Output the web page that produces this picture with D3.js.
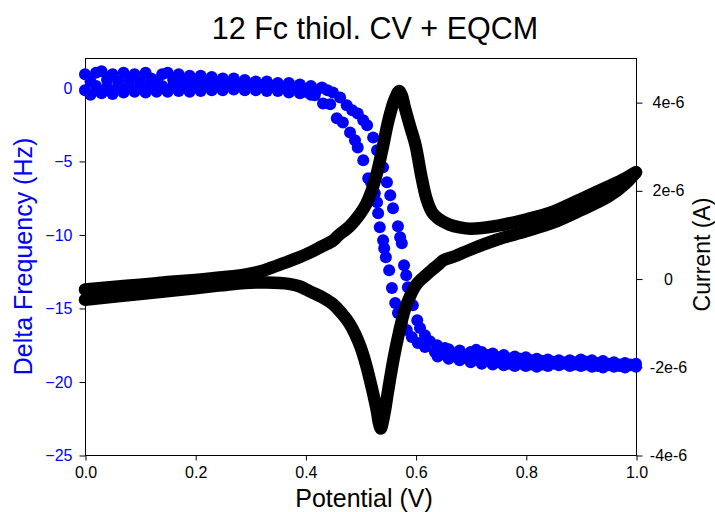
<!DOCTYPE html>
<html>
<head>
<meta charset="utf-8">
<script src="https://cdnjs.cloudflare.com/ajax/libs/d3/7.8.5/d3.min.js"></script>
<style>
  html, body { margin: 0; padding: 0; background: #fff; }
  svg { display: block; font-family: "Liberation Sans", Arial, Helvetica, sans-serif; }
</style>
</head>
<body>
<svg id="chart" width="715" height="512"></svg>
<script>
// ---------- data ----------
const chartTitle = "12 Fc thiol. CV + EQCM";
const xTitle = "Potential (V)";
const yLeftTitle = "Delta Frequency (Hz)";
const yRightTitle = "Current (A)";

const potentialTicks = [0.0, 0.2, 0.4, 0.6, 0.8, 1.0];
const potentialTickLabels = ["0.0", "0.2", "0.4", "0.6", "0.8", "1.0"];
const freqTicks = [0, -5, -10, -15, -20, -25];
const currentTicks = [4, 2, 0, -2, -4];            // in 1e-6 A
const currentTickLabels = ["4e-6", "2e-6", "0", "-2e-6", "-4e-6"];

// Delta frequency (Hz) vs potential (V), forward (anodic) scan
const freqForward = [
  [0.00,0.9],[0.01,0.4],[0.02,1.0],[0.03,1.1],[0.04,0.5],[0.05,0.9],[0.06,0.4],[0.07,1.0],
  [0.08,0.5],[0.09,0.9],[0.10,0.4],[0.11,1.0],[0.12,0.6],[0.13,0.4],[0.14,0.9],[0.15,1.0],
  [0.16,0.5],[0.17,0.9],[0.18,0.4],[0.19,0.8],[0.20,0.3],[0.21,0.8],[0.22,0.4],[0.23,0.7],
  [0.24,0.3],[0.25,0.6],[0.26,0.3],[0.27,0.6],[0.28,0.2],[0.29,0.5],[0.30,0.2],[0.31,0.4],
  [0.32,0.1],[0.33,0.4],[0.34,0.1],[0.35,0.3],[0.36,0.0],[0.37,0.3],[0.38,0.0],[0.39,0.2],
  [0.40,-0.1],[0.41,0.1],[0.42,-0.2],[0.43,0.0],[0.44,-0.2],
  [0.450,-0.34],[0.463,-0.68],[0.475,-1.22],[0.485,-1.56],[0.495,-1.77],[0.505,-2.24],
  [0.512,-2.58],[0.523,-3.40],[0.530,-4.28],[0.541,-5.43],[0.548,-6.45],[0.554,-7.34],
  [0.559,-8.22],[0.568,-9.44],[0.572,-10.19],[0.575,-10.60],[0.579,-12.09],[0.583,-12.77],
  [0.586,-13.59],[0.595,-14.81],[0.603,-15.83],[0.608,-16.37],[0.617,-16.85],[0.626,-17.26],
  [0.639,-17.53],[0.653,-17.73],
  [0.66,-17.8],[0.67,-18.1],[0.68,-17.9],[0.69,-18.2],[0.70,-18.0],[0.71,-17.85],[0.72,-18.0],
  [0.73,-18.2],[0.74,-18.1],[0.75,-18.35],[0.76,-18.2],[0.77,-18.45],[0.78,-18.3],[0.79,-18.45],
  [0.80,-18.35],[0.81,-18.55],[0.82,-18.45],[0.83,-18.6],[0.84,-18.5],[0.85,-18.65],[0.86,-18.55],
  [0.87,-18.7],[0.88,-18.55],[0.89,-18.7],[0.90,-18.5],[0.91,-18.65],[0.92,-18.55],[0.93,-18.75],
  [0.94,-18.6],[0.95,-18.8],[0.96,-18.7],[0.97,-18.85],[0.98,-18.75],[0.99,-18.85],[1.00,-18.8]
];

// Delta frequency (Hz) vs potential (V), reverse (cathodic) scan
const freqReverse = [
  [1.00,-19.0],[0.99,-18.9],[0.98,-19.05],[0.97,-18.95],[0.96,-19.0],[0.95,-18.9],[0.94,-19.05],
  [0.93,-18.95],[0.92,-19.0],[0.91,-18.85],[0.90,-18.95],[0.89,-18.85],[0.88,-18.95],[0.87,-18.8],
  [0.86,-18.9],[0.85,-18.8],[0.84,-18.95],[0.83,-18.85],[0.82,-19.0],[0.81,-18.85],[0.80,-18.95],
  [0.79,-18.8],[0.78,-18.95],[0.77,-18.8],[0.76,-18.9],[0.75,-18.7],[0.74,-18.85],[0.73,-18.6],
  [0.72,-18.8],[0.71,-18.5],[0.70,-18.7],[0.69,-18.4],[0.68,-18.55],[0.67,-18.3],[0.66,-18.45],
  [0.65,-18.15],[0.64,-18.3],
  [0.635,-18.0],[0.617,-17.66],[0.604,-17.39],[0.593,-16.98],[0.584,-16.50],[0.575,-15.96],
  [0.568,-15.35],[0.563,-14.67],[0.557,-13.65],[0.552,-12.43],[0.546,-11.55],[0.543,-10.94],
  [0.541,-10.40],[0.535,-9.51],[0.532,-8.56],[0.530,-7.81],[0.526,-7.20],[0.519,-6.45],
  [0.514,-6.18],[0.505,-4.96],[0.495,-4.08],[0.490,-3.60],[0.481,-3.06],[0.468,-2.38],
  [0.457,-2.10],[0.445,-1.15],[0.432,-1.09],[0.417,-0.54],
  [0.41,-0.5],[0.40,-0.3],[0.39,-0.4],[0.38,-0.1],[0.37,-0.35],[0.36,-0.05],[0.35,-0.25],
  [0.34,0.1],[0.33,-0.25],[0.32,0.15],[0.31,-0.2],[0.30,0.2],[0.29,-0.2],[0.28,0.2],
  [0.27,-0.15],[0.26,0.25],[0.25,-0.2],[0.24,0.2],[0.23,-0.2],[0.22,0.25],[0.21,-0.25],
  [0.20,0.15],[0.19,-0.3],[0.18,0.2],[0.17,-0.25],[0.16,0.15],[0.15,-0.3],[0.14,0.1],
  [0.13,-0.3],[0.12,0.2],[0.11,-0.35],[0.10,0.1],[0.09,-0.3],[0.08,0.15],[0.07,-0.35],
  [0.06,0.1],[0.05,-0.45],[0.04,0.0],[0.03,-0.4],[0.02,0.1],[0.01,-0.5],[0.00,-0.2]
];

// Current (1e-6 A) vs potential (V), forward (anodic) scan
const currentForward = [
  [0.00,-0.25],[0.05,-0.19],[0.10,-0.14],[0.15,-0.08],[0.20,-0.03],[0.25,0.03],[0.29,0.09],
  [0.32,0.17],[0.35,0.30],[0.38,0.44],[0.41,0.60],[0.43,0.73],[0.45,0.86],[0.46,0.98],
  [0.48,1.18],[0.50,1.48],[0.51,1.68],[0.52,1.98],[0.53,2.40],[0.54,2.95],[0.55,3.55],
  [0.56,4.00],[0.565,4.15],[0.57,4.25],[0.575,4.15],[0.58,3.90],[0.59,3.45],[0.60,3.02],
  [0.61,2.35],[0.62,1.80],[0.63,1.50],[0.64,1.37],[0.65,1.29],[0.66,1.23],[0.68,1.16],
  [0.70,1.13],[0.75,1.20],[0.80,1.34],[0.85,1.52],[0.90,1.80],[0.95,2.09],[0.98,2.27],
  [1.00,2.41]
];

// Current (1e-6 A) vs potential (V), reverse (cathodic) scan
const currentReverse = [
  [1.00,2.41],[0.98,2.14],[0.95,1.86],[0.90,1.55],[0.85,1.27],[0.80,1.07],[0.75,0.89],
  [0.70,0.66],[0.67,0.50],[0.65,0.41],[0.64,0.30],[0.63,0.20],[0.62,0.09],[0.61,-0.02],
  [0.60,-0.16],[0.595,-0.27],[0.59,-0.40],[0.58,-0.72],[0.57,-1.22],[0.56,-1.82],
  [0.55,-2.55],[0.545,-2.95],[0.54,-3.27],[0.537,-3.40],[0.533,-3.25],[0.53,-3.02],
  [0.52,-2.45],[0.51,-1.95],[0.50,-1.55],[0.49,-1.25],[0.48,-1.02],[0.47,-0.85],
  [0.45,-0.58],[0.43,-0.42],[0.41,-0.30],[0.39,-0.18],[0.37,-0.12],[0.33,-0.09],
  [0.29,-0.10],[0.25,-0.15],[0.20,-0.22],[0.10,-0.35],[0.00,-0.48]
];

// ---------- layout ----------
const W = 715, H = 512;
const margin = { top: 58, right: 79, bottom: 57, left: 85 };
const plotW = W - margin.left - margin.right;
const plotH = H - margin.top - margin.bottom;

const svg = d3.select("#chart");

const x = d3.scaleLinear().domain([0, 1]).range([margin.left, margin.left + plotW]);
const yF = d3.scaleLinear().domain([-25, 2]).range([margin.top + plotH, margin.top]);
const yI = d3.scaleLinear().domain([-4, 5]).range([margin.top + plotH, margin.top]);

// frame
svg.append("rect")
  .attr("x", margin.left + 0.5).attr("y", margin.top + 0.5)
  .attr("width", plotW).attr("height", plotH)
  .attr("fill", "none").attr("stroke", "#000").attr("stroke-width", 1);

// bottom axis
const gx = svg.append("g")
  .attr("transform", `translate(0.5,${margin.top + plotH + 0.5})`)
  .call(d3.axisBottom(x).tickValues(potentialTicks)
    .tickFormat((d, i) => potentialTickLabels[i]).tickSize(5).tickPadding(6));
gx.select(".domain").remove();
gx.selectAll("text").attr("font-size", 16).attr("fill", "#000").attr("font-family", null);
gx.selectAll("line").attr("stroke", "#000");

// left axis (blue labels)
const gl = svg.append("g")
  .attr("transform", `translate(${margin.left + 0.5},0.5)`)
  .call(d3.axisLeft(yF).tickValues(freqTicks).tickFormat(d3.format("d")).tickSize(6).tickPadding(7));
gl.select(".domain").remove();
gl.selectAll("text").attr("font-size", 16).attr("fill", "#0000ff").attr("font-family", null);
gl.selectAll("line").attr("stroke", "#000");

// right axis
const gr = svg.append("g")
  .attr("transform", `translate(${margin.left + plotW + 0.5},0.5)`)
  .call(d3.axisRight(yI).tickValues(currentTicks)
    .tickFormat((d, i) => currentTickLabels[i]).tickSize(6).tickPadding(7));
gr.select(".domain").remove();
gr.selectAll("text").attr("font-size", 16).attr("fill", "#000").attr("font-family", null)
  .attr("text-anchor", "middle").attr("x", 32);
gr.selectAll("line").attr("stroke", "#000");

// titles
svg.append("text")
  .attr("x", 375).attr("y", 39).attr("text-anchor", "middle")
  .attr("font-size", 30.5).attr("fill", "#000").text(chartTitle);

svg.append("text")
  .attr("x", 364).attr("y", 507).attr("text-anchor", "middle")
  .attr("font-size", 25).attr("fill", "#000").text(xTitle);

svg.append("text")
  .attr("transform", `translate(32,${margin.top + plotH / 2}) rotate(-90)`)
  .attr("text-anchor", "middle")
  .attr("font-size", 25).attr("fill", "#0000ff").text(yLeftTitle);

svg.append("text")
  .attr("transform", `translate(710,${margin.top + plotH / 2 - 2}) rotate(-90)`)
  .attr("text-anchor", "middle")
  .attr("font-size", 23).attr("fill", "#000").text(yRightTitle);

// ---------- data marks ----------
const R = 6;
const freqG = svg.append("g");
[freqForward, freqReverse].forEach(series => {
  freqG.selectAll(null).data(series).enter().append("circle")
    .attr("cx", d => x(d[0])).attr("cy", d => yF(d[1]))
    .attr("r", R).attr("fill", "#0000ff");
});

const line = d3.line()
  .x(d => x(d[0])).y(d => yI(d[1]))
  .curve(d3.curveCatmullRom.alpha(0.5));

const curG = svg.append("g");
[currentForward, currentReverse].forEach(series => {
  curG.append("path").datum(series)
    .attr("d", line)
    .attr("fill", "none").attr("stroke", "#000")
    .attr("stroke-width", 2 * R + 0.5)
    .attr("stroke-linecap", "round").attr("stroke-linejoin", "round");
});
</script>
</body>
</html>
